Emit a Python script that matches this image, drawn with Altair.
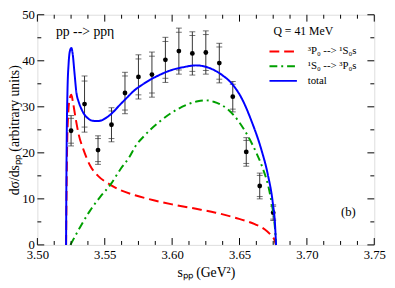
import altair as alt
import pandas as pd

# ---------------- data ----------------
s_data = [3.525, 3.535, 3.545, 3.555, 3.565, 3.575, 3.585, 3.595,
          3.605, 3.615, 3.625, 3.635, 3.645, 3.655, 3.665, 3.675]
y_data = [24.8, 30.6, 20.6, 26.1, 33.0, 36.5, 37.0, 40.2,
          42.1, 41.6, 41.8, 39.5, 32.2, 20.2, 12.8, 7.0]
err_tot = [3.3, 6.1, 3.1, 3.7, 4.5, 4.8, 4.9, 4.9,
           5.0, 4.7, 4.7, 4.3, 3.3, 3.1, 2.8, 1.7]
err_stat = [2.7, 5.0, 2.5, 3.0, 3.7, 3.9, 4.0, 4.0,
            4.1, 3.9, 3.9, 3.5, 2.7, 2.5, 2.3, 1.4]

total_s = [3.5213, 3.5215, 3.5218, 3.5223, 3.5232, 3.5242, 3.5252, 3.5262, 3.5275,
           3.5290, 3.5305, 3.5320, 3.5345, 3.5375, 3.5405, 3.5445, 3.5480, 3.5515,
           3.5550, 3.5605, 3.5665, 3.5717, 3.5778, 3.5838, 3.5898, 3.5959, 3.6020,
           3.6081, 3.6177, 3.6250, 3.6310, 3.6371, 3.6444, 3.6517, 3.6589, 3.6662,
           3.6710, 3.6747, 3.6764, 3.6771]
total_v = [0.0, 12.0, 24.0, 33.0, 39.5, 42.2, 42.8, 41.5, 37.5,
           33.0, 31.2, 30.0, 28.5, 27.5, 27.0, 26.9, 27.1, 27.7,
           28.5, 30.2, 32.0, 33.5, 34.8, 35.9, 36.8, 37.6, 38.2,
           38.6, 39.0, 38.7, 38.0, 36.9, 35.0, 31.8, 26.9, 20.7,
           15.3, 9.1, 4.2, 0.0]

red_s = [3.5213, 3.5216, 3.5220, 3.5228, 3.5240, 3.5252, 3.5264, 3.5281, 3.5305,
         3.5342, 3.5390, 3.5450, 3.5523, 3.5608, 3.5725, 3.5863, 3.6000, 3.6177,
         3.6323, 3.6468, 3.6613, 3.6686, 3.6734, 3.6759, 3.6771]
red_v = [0.0, 10.0, 20.0, 28.0, 31.8, 32.6, 31.0, 28.0, 24.2,
         20.7, 17.3, 15.0, 13.4, 12.0, 10.8, 9.7, 8.8, 7.85,
         7.0, 5.9, 4.5, 3.4, 2.1, 1.1, 0.0]

green_s = [3.5245, 3.5320, 3.5390, 3.5465, 3.5545, 3.5620, 3.5681, 3.5729, 3.5790,
           3.5899, 3.5996, 3.6105, 3.6190, 3.6250, 3.6308, 3.6419, 3.6492, 3.6565,
           3.6625, 3.6673, 3.6710, 3.6739, 3.6759, 3.6767, 3.6770]
green_v = [0.0, 4.0, 7.4, 10.4, 13.2, 16.6, 19.0, 21.5, 23.6,
           26.6, 28.7, 30.4, 31.2, 31.4, 31.1, 29.3, 26.9, 23.5,
           20.0, 16.6, 13.2, 9.0, 4.9, 2.0, 0.0]

series_labels = ["³P₀ --> ¹S₀s", "¹S₀ --> ³P₀s", "total"]
series_colors = ["#ff0000", "#00a000", "#0000ff"]
series_dashes = [[10, 5], [8, 4, 2, 4], [1, 0]]

x_major = [3.50, 3.55, 3.60, 3.65, 3.70, 3.75]
x_minor = [3.5125, 3.525, 3.5375, 3.5625, 3.575, 3.5875, 3.6125, 3.625, 3.6375,
           3.6625, 3.675, 3.6875, 3.7125, 3.725, 3.7375]
y_major = [0, 10, 20, 30, 40, 50]
y_minor = [5, 15, 25, 35, 45]

title_text = ["pp --> ppη"]
q_text = ["Q = 41 MeV"]
panel_text = ["(b)"]

# ---------------- layout ----------------
W, H = 344, 235
FONT = "Liberation Serif, Times New Roman, Times, serif"

xscale = alt.Scale(domain=[3.5, 3.75], nice=False, zero=False)
yscale = alt.Scale(domain=[0, 50], nice=False)

xaxis = alt.Axis(values=x_major, format=".2f", title="sₚₚ (GeV²)", grid=False,
                 ticks=False, domain=False, labelFontSize=13, labelPadding=4,
                 labelFont=FONT, titleFont=FONT, titleFontSize=14,
                 titleFontWeight="normal", labelColor="black", titleColor="black",
                 titleY=28, titleBaseline="middle", labelFlush=False)
yaxis = alt.Axis(values=y_major, title="dσ/dsₚₚ (arbitrary units)", grid=False,
                 ticks=False, domain=False, labelFontSize=13, labelPadding=3,
                 labelFont=FONT, titleFont=FONT, titleFontSize=14,
                 titleFontWeight="normal", labelColor="black", titleColor="black",
                 titleX=-23, titleY=H / 2, titleAngle=270, titleBaseline="middle",
                 titleAlign="center", labelFlush=False)

curves = pd.concat([
    pd.DataFrame({"s": red_s, "v": red_v, "series": series_labels[0]}),
    pd.DataFrame({"s": green_s, "v": green_v, "series": series_labels[1]}),
    pd.DataFrame({"s": total_s, "v": total_v, "series": series_labels[2]}),
])

pts = pd.DataFrame({
    "s": s_data, "y": y_data,
    "lo": [a - b for a, b in zip(y_data, err_tot)],
    "hi": [a + b for a, b in zip(y_data, err_tot)],
    "lo2": [a - b for a, b in zip(y_data, err_stat)],
    "hi2": [a + b for a, b in zip(y_data, err_stat)],
})
caps = pd.DataFrame({
    "s": s_data * 4,
    "c": list(pts["lo"]) + list(pts["hi"]) + list(pts["lo2"]) + list(pts["hi2"]),
})

legend = alt.Legend(title=None, orient="none", legendX=236, legendY=30,
                    symbolType="stroke", symbolSize=784, symbolStrokeWidth=2,
                    clipHeight=15, rowPadding=0, labelFont=FONT, labelFontSize=11,
                    labelOffset=10, labelColor="black", padding=0)

color_enc = alt.Color("series:N", scale=alt.Scale(domain=series_labels, range=series_colors),
                      legend=legend)
dash_enc = alt.StrokeDash("series:N", scale=alt.Scale(domain=series_labels, range=series_dashes),
                          legend=legend)

base_x = alt.X("s:Q", scale=xscale, axis=xaxis)

errbars = alt.Chart(pts).mark_rule(color="#333333", strokeWidth=1).encode(
    x=base_x, y=alt.Y("lo:Q", scale=yscale, axis=yaxis), y2="hi:Q")
capmarks = alt.Chart(caps).mark_tick(color="#333333", thickness=1, size=6,
                                     orient="horizontal").encode(
    x=alt.X("s:Q", scale=xscale), y=alt.Y("c:Q", scale=yscale))
points = alt.Chart(pts).mark_circle(size=24, color="black", opacity=1).encode(
    x=alt.X("s:Q", scale=xscale), y=alt.Y("y:Q", scale=yscale))

line_layers = []
for lab in series_labels:
    line_layers.append(
        alt.Chart(curves).transform_filter(alt.datum.series == lab)
        .mark_line(strokeWidth=2, interpolate="monotone")
        .encode(x=alt.X("s:Q", scale=xscale), y=alt.Y("v:Q", scale=yscale),
                color=color_enc, strokeDash=dash_enc)
    )

def tick_layer(vals, axis, length, side):
    df = pd.DataFrame({"t": vals})
    ch = alt.Chart(df).mark_rule(color="black", strokeWidth=1)
    if axis == "x":
        y0 = H if side == "bottom" else 0
        y1 = H - length if side == "bottom" else length
        return ch.encode(x=alt.X("t:Q", scale=xscale), y=alt.value(y0), y2=alt.value(y1))
    x0 = 0 if side == "left" else W
    x1 = length if side == "left" else W - length
    return ch.encode(y=alt.Y("t:Q", scale=yscale), x=alt.value(x0), x2=alt.value(x1))

ticks = [
    tick_layer(x_major, "x", 7, "bottom"), tick_layer(x_major, "x", 7, "top"),
    tick_layer(x_minor, "x", 4, "bottom"), tick_layer(x_minor, "x", 4, "top"),
    tick_layer(y_major, "y", 7, "left"), tick_layer(y_major, "y", 7, "right"),
    tick_layer(y_minor, "y", 4, "left"), tick_layer(y_minor, "y", 4, "right"),
]

t1 = alt.Chart(pd.DataFrame({"t": title_text})).mark_text(
    font=FONT, fontSize=14, align="left", baseline="middle", color="black").encode(
    x=alt.value(19), y=alt.value(17.5), text="t:N")
t2 = alt.Chart(pd.DataFrame({"t": q_text})).mark_text(
    font=FONT, fontSize=12, align="left", baseline="middle", color="black").encode(
    x=alt.value(241), y=alt.value(16.5), text="t:N")
t3 = alt.Chart(pd.DataFrame({"t": panel_text})).mark_text(
    font=FONT, fontSize=13, align="left", baseline="middle", color="black").encode(
    x=alt.value(310), y=alt.value(201), text="t:N")

chart = alt.layer(errbars, capmarks, points, *line_layers, *ticks, t1, t2, t3).properties(
    width=W, height=H,
    padding={"left": 30, "top": 4, "right": 13, "bottom": 36},
    autosize=alt.AutoSizeParams(type="none"),
).configure_view(stroke="black", strokeWidth=1.5).configure(font=FONT)

chart.save("out.html", embed_options={"renderer": "svg", "actions": False})
